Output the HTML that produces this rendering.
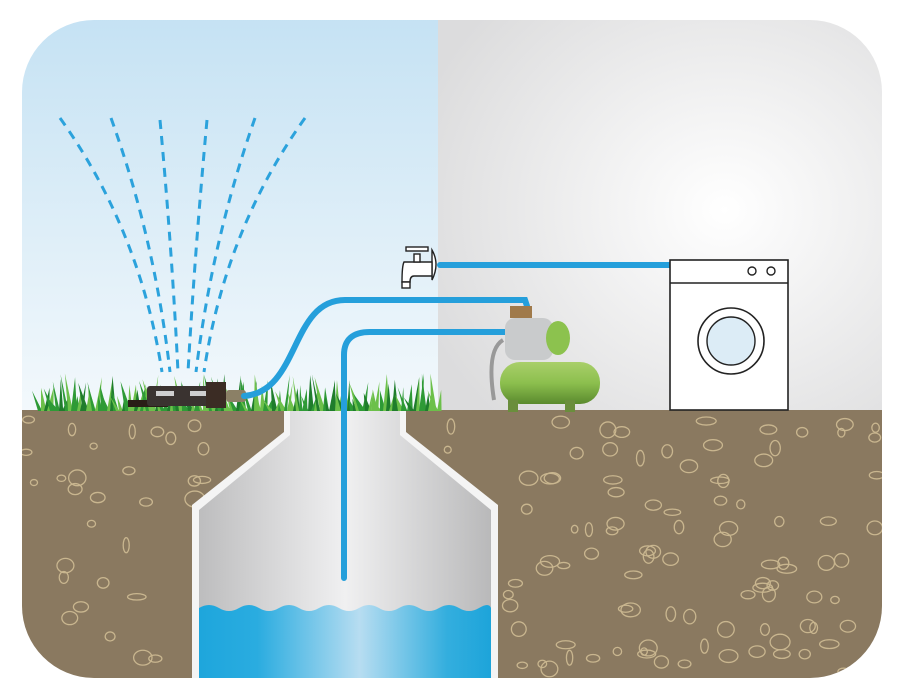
<!DOCTYPE html>
<html><head><meta charset="utf-8"><style>
html,body{margin:0;padding:0;background:#fff;width:900px;height:700px;overflow:hidden}
</style></head><body>
<svg id="s" width="900" height="700" viewBox="0 0 900 700" xmlns="http://www.w3.org/2000/svg">
<defs>
<clipPath id="frame"><rect x="22" y="20" width="860" height="658" rx="72" ry="72"/></clipPath>
<linearGradient id="sky" x1="0" y1="0" x2="0" y2="1"><stop offset="0" stop-color="#c3e1f3"/><stop offset="1" stop-color="#f4f9fc"/></linearGradient>
<radialGradient id="wall" cx="0.62" cy="0.5" r="0.7"><stop offset="0" stop-color="#ffffff"/><stop offset="1" stop-color="#dcdcdd"/></radialGradient>
<linearGradient id="well" x1="0" y1="0" x2="1" y2="0"><stop offset="0" stop-color="#bdbdbe"/><stop offset="0.5" stop-color="#f0f0f1"/><stop offset="1" stop-color="#b9b9ba"/></linearGradient>
<linearGradient id="water" x1="0" y1="0" x2="1" y2="0"><stop offset="0" stop-color="#1ea6dc"/><stop offset="0.2" stop-color="#2aace0"/><stop offset="0.55" stop-color="#b7ddf1"/><stop offset="0.85" stop-color="#33aede"/><stop offset="1" stop-color="#1da4da"/></linearGradient>
<linearGradient id="tank" x1="0" y1="0" x2="0" y2="1"><stop offset="0" stop-color="#a9cf6a"/><stop offset="0.5" stop-color="#8cbf4e"/><stop offset="1" stop-color="#5a8a2e"/></linearGradient>
</defs>
<g clip-path="url(#frame)">
<rect x="0" y="0" width="438" height="420" fill="url(#sky)"/>
<rect x="438" y="0" width="462" height="420" fill="url(#wall)"/>
<rect x="0" y="410" width="900" height="290" fill="#8a7960"/>
<g id="peb" fill="none" stroke="#c9b68f" stroke-width="1.3"></g>
<path d="M284 410 L284 432 L192 505 L192 700 L498 700 L498 505 L406 432 L406 410 Z" fill="#f4f4f4"/>
<path d="M290 410 L290 435 L199 510 L199 700 L491 700 L491 510 L400 435 L400 410 Z" fill="url(#well)"/>
<path d="M199 608 q10 -6 20 0 t20 0 t20 0 t20 0 t20 0 t20 0 t20 0 t20 0 t20 0 t20 0 t20 0 t20 0 t20 0 t20 0 t12 0 L491 700 L199 700 Z" fill="url(#water)"/>
</g>
<g fill="none" stroke="#2ba2dc" stroke-width="3" stroke-dasharray="9 7">
<path d="M60 118 Q140 230 162 372"/>
<path d="M111 118 Q155 240 170 372"/>
<path d="M160 120 Q172 250 178 372"/>
<path d="M207 120 Q195 250 188 372"/>
<path d="M255 118 Q212 240 196 372"/>
<path d="M305 118 Q225 230 204 372"/>
</g>
<g id="grass"></g>
<rect x="128" y="400" width="40" height="7" fill="#2a1d17"/>
<rect x="147" y="386" width="70" height="20" rx="3" fill="#3a3330"/>
<rect x="156" y="391" width="18" height="5" fill="#cfcfcf"/><rect x="190" y="391" width="18" height="5" fill="#cfcfcf"/>
<rect x="206" y="382" width="20" height="26" fill="#3b2c24"/>
<rect x="226" y="390" width="20" height="12" rx="3" fill="#8b8066"/>
<g fill="none" stroke="#259fdb" stroke-width="6" stroke-linecap="round">
<path d="M244 396 C300 392 290 300 345 300 L525 300 L527 306"/>
<path d="M344 578 L344 355 Q344 332 370 332 L505 332"/>
<path d="M440 265 L670 265"/>
</g>
<g stroke="#222" stroke-width="1.4" fill="#fff">
<path d="M432 250 Q440 264 432 280 Z"/>
<path d="M404 262 L432 262 L432 276 L414 276 Q410 276 410 282 L402 282 Q402 266 404 262 Z"/>
<rect x="414" y="254" width="6" height="8"/>
<rect x="406" y="247" width="22" height="4"/>
<rect x="402" y="282" width="8" height="6"/>
</g>
<path d="M503 340 Q486 350 494 400" stroke="#999" stroke-width="4" fill="none"/>
<rect x="505" y="318" width="48" height="42" rx="10" fill="#c9cbcc"/>
<ellipse cx="558" cy="338" rx="12" ry="17" fill="#8cc24e"/>
<rect x="510" y="306" width="22" height="12" fill="#a07a4a"/>
<rect x="500" y="362" width="100" height="42" rx="20" fill="url(#tank)"/>
<rect x="508" y="400" width="10" height="12" fill="#6a8e3c"/><rect x="565" y="400" width="10" height="12" fill="#6a8e3c"/>
<rect x="670" y="260" width="118" height="150" fill="#fff" stroke="#222" stroke-width="1.6"/>
<line x1="670" y1="283" x2="788" y2="283" stroke="#222" stroke-width="1.4"/>
<circle cx="752" cy="271" r="4" fill="#fff" stroke="#222" stroke-width="1.4"/>
<circle cx="771" cy="271" r="4" fill="#fff" stroke="#222" stroke-width="1.4"/>
<circle cx="731" cy="341" r="33" fill="#fff" stroke="#222" stroke-width="1.6"/>
<circle cx="731" cy="341" r="24" fill="#dcecf6" stroke="#222" stroke-width="1.4"/>
</svg>
<script>
var ns="http://www.w3.org/2000/svg",p=document.getElementById("peb"),g=document.getElementById("grass");
var seed=7;function r(){seed=(seed*16807)%2147483647;return seed/2147483647;}
for(var i=0;i<170;i++){var x=25+r()*855,y=418+r()*260;
if(x>180&&x<505&&y>410&&(y>500||(x>270&&x<420)))continue;
var e=document.createElementNS(ns,"ellipse");e.setAttribute("cx",x);e.setAttribute("cy",y);
e.setAttribute("rx",3+r()*7);e.setAttribute("ry",3+r()*5);p.appendChild(e);}
for(var x=38;x<438;x+=3){var h=12+r()*26,w=3+r()*4,l=(r()-0.5)*14;
var t=document.createElementNS(ns,"path");t.setAttribute("d","M"+x+" 411 L"+(x+l)+" "+(411-h)+" L"+(x+w)+" 411Z");
var c=r();t.setAttribute("fill",c<0.4?"#2e9a36":(c<0.75?"#6cc04a":"#1f7d2c"));g.appendChild(t);}
</script>
</body></html>
